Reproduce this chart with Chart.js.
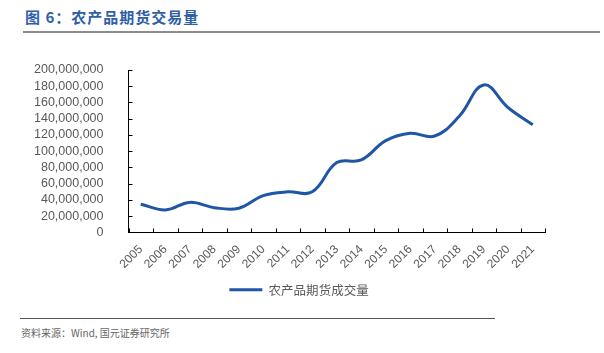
<!DOCTYPE html>
<html>
<head>
<meta charset="utf-8">
<script src="https://cdn.jsdelivr.net/npm/chart.js@4.4.1/dist/chart.umd.min.js"></script>
<style>
  html, body { margin: 0; padding: 0; background: #fff; }
  #wrap { position: relative; width: 604px; height: 353px; overflow: hidden; }
  #title { position: absolute; left: 25px; top: 8px; font: bold 15px "Noto Sans CJK SC", sans-serif; color: #2f5ea8; letter-spacing: 1px; line-height: 18px; }
  #title-rule { position: absolute; left: 23px; top: 31px; width: 577px; height: 2px; background: #8c8c8c; }
  #chart-box { position: absolute; left: 0; top: 40px; width: 604px; height: 270px; }
  #foot-rule { position: absolute; left: 20px; top: 318px; width: 475px; height: 1px; background: #555; }
  #source { position: absolute; left: 21px; top: 326px; font: 10px "Noto Sans CJK SC", sans-serif; color: #666; line-height: 14px; }
</style>
</head>
<body>
<div id="wrap">
  <div id="title">图 6：农产品期货交易量</div>
  <div id="title-rule"></div>
  <div id="chart-box"><canvas id="chart"></canvas></div>
  <div id="foot-rule"></div>
  <div id="source">资料来源：Wind, 国元证券研究所</div>
</div>
<script>
const years = ['2005', '2006', '2007', '2008', '2009', '2010', '2011', '2012', '2013',
  '2014', '2015', '2016', '2017', '2018', '2019', '2020', '2021'];
// 农产品期货成交量
const volume = [34800000, 27700000, 37000000, 30500000, 29800000, 45300000, 50000000, 50000000, 86000000,
  89300000, 113000000, 122000000, 118700000, 143000000, 181600000, 153500000, 132600000];
const yTicks = [0, 20000000, 40000000, 60000000, 80000000, 100000000, 120000000, 140000000,
  160000000, 180000000, 200000000];

// small tick marks drawn inside the plot, like the original
const innerTicks = {
  id: 'innerTicks',
  afterDraw(chart) {
    const { ctx, scales: { x, y } } = chart;
    ctx.save();
    ctx.strokeStyle = '#000';
    ctx.lineWidth = 1;
    ctx.beginPath();
    yTicks.forEach(v => {
      const py = Math.round(y.getPixelForValue(v)) + 0.5;
      ctx.moveTo(x.left, py);
      ctx.lineTo(x.left + 4, py);
    });
    for (let i = 0; i <= years.length; i++) {
      const px = Math.round(x.getPixelForValue(i - 0.5)) + 0.5;
      ctx.moveTo(px, y.bottom);
      ctx.lineTo(px, y.bottom - 4);
    }
    ctx.stroke();
    ctx.restore();
  }
};

new Chart(document.getElementById('chart'), {
  type: 'line',
  data: {
    labels: years,
    datasets: [{
      label: '农产品期货成交量',
      data: volume,
      borderColor: '#1f56a5',
      backgroundColor: '#1f56a5',
      borderWidth: 3,
      pointRadius: 0,
      tension: 0.4,
      fill: false
    }]
  },
  options: {
    responsive: true,
    maintainAspectRatio: false,
    animation: false,
    layout: { padding: { left: 17, right: 23, top: 30, bottom: 4 } },
    plugins: {
      legend: {
        position: 'bottom',
        labels: {
          usePointStyle: true,
          pointStyle: 'line',
          pointStyleWidth: 33,
          color: '#595959',
          font: { family: "'Noto Sans CJK SC', sans-serif", size: 12.5 },
          padding: 10
        }
      },
      tooltip: { enabled: false }
    },
    scales: {
      x: {
        offset: true,
        grid: { display: false },
        border: { display: true, color: '#000', width: 1 },
        ticks: {
          maxRotation: 45,
          minRotation: 45,
          autoSkip: false,
          padding: 2,
          color: '#595959',
          font: { family: "'Liberation Sans', Arial, sans-serif", size: 12 }
        }
      },
      y: {
        min: 0,
        max: 200000000,
        grid: { display: false },
        border: { display: true, color: '#000', width: 1 },
        afterBuildTicks(axis) { axis.ticks = yTicks.map(v => ({ value: v })); },
        ticks: {
          autoSkip: false,
          padding: 17,
          color: '#595959',
          font: { family: "'Liberation Sans', Arial, sans-serif", size: 12.5 },
          callback: v => v.toLocaleString('en-US')
        }
      },
      // empty right-hand spacer so the legend stays centred on the page
      spacer: {
        type: 'linear',
        position: 'right',
        grid: { display: false },
        border: { display: false },
        ticks: { display: false },
        afterFit(axis) { axis.width = 36; }
      }
    }
  },
  plugins: [innerTicks]
});
</script>
</body>
</html>
